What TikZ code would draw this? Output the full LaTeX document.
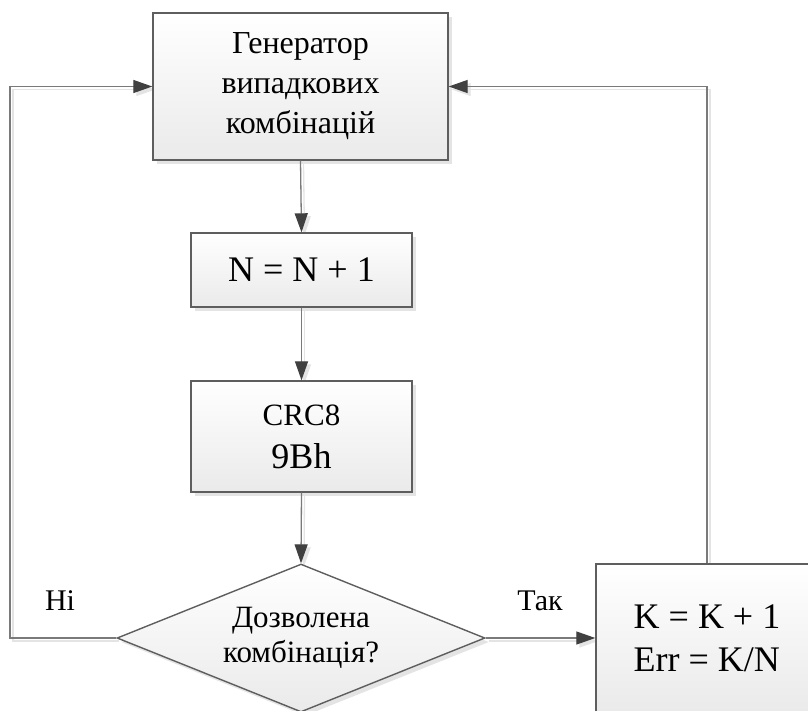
\documentclass[tikz,border=0pt]{standalone}
\usepackage{fontspec}
\setmainfont{Liberation Serif}
\usetikzlibrary{shapes.geometric,arrows.meta,shadows}
\pgfdeclarelayer{background}
\pgfsetlayers{background,main}

\definecolor{edgegray}{HTML}{5E5E5E}
\definecolor{linegray}{HTML}{7A7A7A}
\definecolor{tipgray}{HTML}{404040}
\definecolor{shadowgray}{HTML}{E4E4E4}
\definecolor{fillbottom}{HTML}{EAEAEA}

% connectors of the flowchart, drawn with the style given as argument
\newcommand\flowlinks[1]{%
  \draw[#1] (gen.south) -- (inc.north);
  \draw[#1] (inc.south) -- (crc.north);
  \draw[#1] (crc.south) -- (dec.north);
  \draw[#1] (dec.east) -- (cnt.west);
  \draw[#1] (dec.west) -- (loopL) |- (gen.west);
  \draw[#1] (cnt.north) |- (gen.east);
}

\begin{document}
\begin{tikzpicture}[x=1pt,y=-1pt,
  block/.style={draw=edgegray, line width=1.4pt, top color=white,
    bottom color=fillbottom, inner sep=0pt, align=center,
    drop shadow={shadow xshift=4pt, shadow yshift=-4pt, fill=shadowgray, opacity=1}},
  decision/.style={block, shape=diamond, aspect=2.49},
  conn/.style={draw=linegray, line width=1.3pt,
    -{Triangle[length=19pt,width=13pt,color=tipgray]}},
  connshade/.style={draw=shadowgray, line width=1.3pt,
    -{Triangle[length=19pt,width=13pt,color=shadowgray]}},
  lbl/.style={inner sep=0pt, font=\fontsize{30}{36}\selectfont}
]
\useasboundingbox (0,0) rectangle (808,710);
\clip (0,0) rectangle (808,710);

\node[block, minimum width=295pt, minimum height=147pt,
  font=\fontsize{32}{40}\selectfont] (gen) at (300.5,86.5)
  {Генератор\\випадкових\\комбінацій};
\node[block, minimum width=221pt, minimum height=74pt,
  font=\fontsize{36}{43}\selectfont] (inc) at (301.5,270) {N = N + 1};
\node[block, minimum width=221pt, minimum height=111pt,
  font=\fontsize{31}{43}\selectfont] (crc) at (301.5,436.5)
  {CRC8\\{\fontsize{36}{43}\selectfont 9Bh}};
\node[decision, minimum width=368pt, minimum height=148pt,
  font=\fontsize{31}{35}\selectfont] (dec) at (301,638)
  {Дозволена\\комбінація?};
\node[block, minimum width=222pt, minimum height=148pt, align=left,
  font=\fontsize{36}{43}\selectfont] (cnt) at (707,638)
  {K = K + 1\\Err = K/N};

\coordinate (loopL) at (10,638);

\node[lbl] (no) at (60,601) {Ні};
\node[lbl] (yes) at (540,601) {Так};

\begin{pgfonlayer}{background}
  \begin{scope}[transform canvas={shift={(3pt,-3pt)}}]
    \flowlinks{connshade}
  \end{scope}
\end{pgfonlayer}
\flowlinks{conn}
\end{tikzpicture}
\end{document}
